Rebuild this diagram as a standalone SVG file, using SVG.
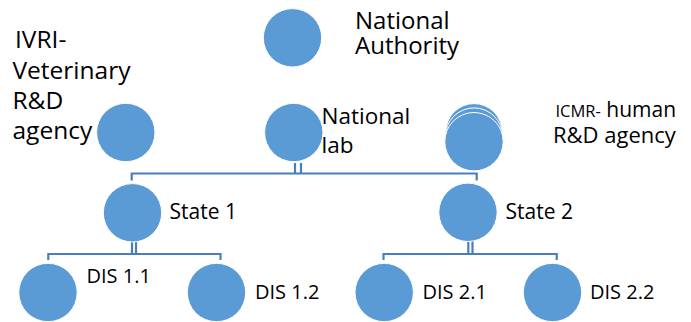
<svg xmlns="http://www.w3.org/2000/svg" width="691" height="322" viewBox="0 0 691 322">
<style>
.n{fill:#5b9bd5;stroke:#ffffff;stroke-width:1}
.c{fill:none;stroke:#4a7ebb;stroke-width:2.2}
text{font-family:"Open Sans","Liberation Sans",sans-serif;fill:#000000}
</style>
<rect width="691" height="322" fill="#ffffff"/>
<g id="connectors">
<path class="c" d="M131.7 180.5V173.5H476.7V180.5"/>
<path class="c" d="M295 163V173.5M301 163V173.5"/>
<path class="c" d="M48.3 260V254H220.5V260"/>
<path class="c" d="M132 241V254M136 241V254"/>
<path class="c" d="M383.5 260V254H556.7V260"/>
<path class="c" d="M468.3 241V254M472.5 241V254"/>
</g>
<g id="national-authority">
<circle class="n" cx="292.5" cy="37.8" r="29.2"/>
<text x="355" y="28.5" font-size="24">National</text>
<text x="355" y="53.5" font-size="24">Authority</text>
</g>
<g id="ivri">
<circle class="n" cx="125.8" cy="132.5" r="29.2"/>
<text x="15" y="48.3" font-size="24.5">IVRI-</text>
<text x="12.5" y="78.8" font-size="24.5">Veterinary</text>
<text x="12.5" y="108.5" font-size="24.5">R&amp;D</text>
<text x="12.5" y="138.5" font-size="24.5">agency</text>
</g>
<g id="national-lab">
<circle class="n" cx="293.8" cy="132.5" r="29.2"/>
<text x="321.5" y="124.3" font-size="22.5">National</text>
<text x="321.5" y="153.3" font-size="22.5">lab</text>
</g>
<g id="icmr">
<circle class="n" cx="474" cy="131.8" r="28.2" stroke-width="1.5"/>
<circle class="n" cx="474" cy="136.6" r="28.7" stroke-width="1.5"/>
<circle class="n" cx="474" cy="141.7" r="29.2" stroke-width="1.5"/>
<text x="555.5" y="116.7"><tspan font-size="16.5">ICMR-</tspan><tspan font-size="21"> human</tspan></text>
<text x="553" y="143.3" font-size="22">R&amp;D agency</text>
</g>
<g id="state1">
<circle class="n" cx="132.5" cy="212.8" r="29.2"/>
<text x="169.5" y="219.3" font-size="21">State 1</text>
</g>
<g id="state2">
<circle class="n" cx="468" cy="212.3" r="29.2"/>
<text x="505.5" y="219.3" font-size="21">State 2</text>
</g>
<g id="dis11">
<circle class="n" cx="48" cy="292.5" r="29.2"/>
<text x="86.5" y="283.3" font-size="20">DIS 1.1</text>
</g>
<g id="dis12">
<circle class="n" cx="216.5" cy="292.5" r="29.2"/>
<text x="255" y="299.3" font-size="20">DIS 1.2</text>
</g>
<g id="dis21">
<circle class="n" cx="384.2" cy="292.5" r="29.2"/>
<text x="422.5" y="299.3" font-size="20">DIS 2.1</text>
</g>
<g id="dis22">
<circle class="n" cx="552.5" cy="292.5" r="29.2"/>
<text x="590" y="299.3" font-size="20">DIS 2.2</text>
</g>
</svg>
